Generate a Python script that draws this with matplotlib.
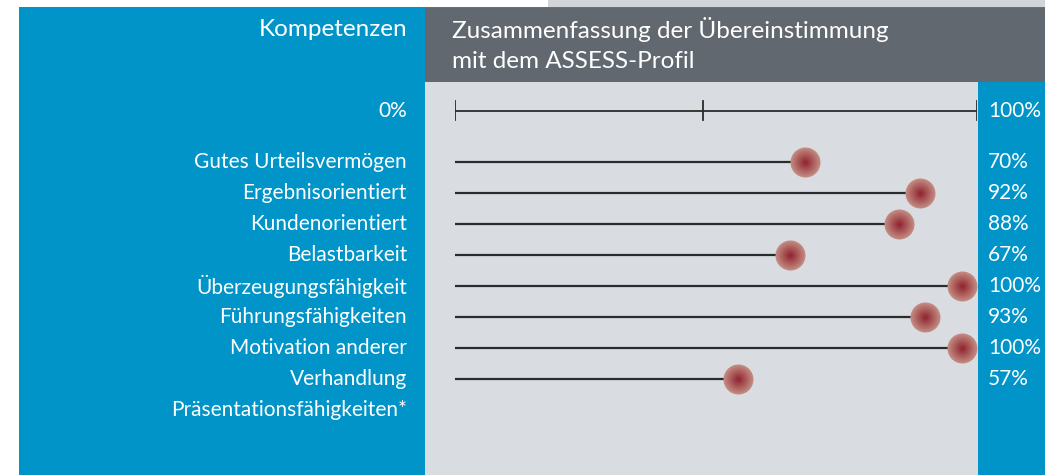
import numpy as np
import matplotlib
matplotlib.use("Agg")
import matplotlib.pyplot as plt
import matplotlib.transforms as mtransforms
from matplotlib.patches import Rectangle
from matplotlib.colors import to_rgb

plt.rcParams['font.family'] = ['Lato', 'DejaVu Sans']

# -----------------------------
# data
# -----------------------------
competences = ["Gutes Urteilsvermögen", "Ergebnisorientiert", "Kundenorientiert",
               "Belastbarkeit", "Überzeugungsfähigkeit", "Führungsfähigkeiten",
               "Motivation anderer", "Verhandlung", "Präsentationsfähigkeiten*"]
scores = [70, 92, 88, 67, 100, 93, 100, 57, None]
scale_ticks = [0, 47.5, 100]

header_left = "Kompetenzen"
header_right = ["Zusammenfassung der Übereinstimmung", "mit dem ASSESS-Profil"]

BLUE = "#0094c8"
DARK = "#616870"
LIGHT = "#d9dce0"
STRIP = "#d2d4d7"
W, H = 1045, 475

fig = plt.figure(figsize=(W / 100, H / 100), dpi=100)
fig.patch.set_facecolor("white")

# background panels in pixel coords
bg = fig.add_axes([0, 0, 1, 1])
bg.set_xlim(0, W)
bg.set_ylim(H, 0)
bg.axis("off")
bg.add_patch(Rectangle((548, 0), W - 548, 7, color=STRIP, lw=0))
bg.add_patch(Rectangle((19, 7), W - 19, H - 7, color=BLUE, lw=0))
bg.add_patch(Rectangle((425, 8), W - 425, 74, color=DARK, lw=0))
bg.add_patch(Rectangle((425, 82), 978 - 425, H - 82, color=LIGHT, lw=0))

# data axes: 0..100 spans the scale line, rows by index
ax = fig.add_axes([455 / W, 0, (977 - 455) / W, 1])
ax.set_xlim(0, 100)
row0, step = 162, 31.0
ax.set_ylim((H - row0) / step, -row0 / step)
ax.axis("off")
ax.patch.set_alpha(0)

scale_row = -(row0 - 110.6) / step
ax.plot([0, 100], [scale_row, scale_row], color="#2b2b2b", lw=1.3, solid_capstyle="butt")
for t in scale_ticks:
    ax.plot([t, t], [scale_row - 0.3, scale_row + 0.3], color="#2b2b2b", lw=1.3)

lab_x = (407 - 455) / (977 - 455)
pct_x = (988 - 455) / (977 - 455)
ytr = ax.get_yaxis_transform()
txt_kw = dict(color="white", fontsize=15, va="center")

ax.text(lab_x, scale_row, "0%", ha="right", transform=ytr, **txt_kw)
ax.text(pct_x, scale_row, "100%", ha="left", transform=ytr, **txt_kw)

# marker placed so its right edge sits on the value
radius_px = 15
shift = mtransforms.offset_copy(ax.transData, fig=fig, x=-radius_px, y=0, units="dots")
edge_c = np.array(to_rgb("#c38b82"))
core_c = np.array(to_rgb("#932a33"))
diam_pt = 2 * radius_px * 72 / 100

for i, (name, val) in enumerate(zip(competences, scores)):
    ax.text(lab_x, i, name, ha="right", transform=ytr, **txt_kw)
    if val is None:
        continue
    ax.plot([0, val], [i, i], color="#2b2b2b", lw=1.6, solid_capstyle="butt", zorder=2)
    n = 16
    for k in range(n):
        f = k / (n - 1)
        c = edge_c * (1 - f) + core_c * f
        d = diam_pt * (1 - 0.9 * f)
        ax.scatter([val], [i], s=d ** 2, color=c, lw=0, zorder=3 + k, transform=shift)
    ax.text(pct_x, i, f"{val}%", ha="left", transform=ytr, **txt_kw)

bg.text(407, 29, header_left, ha="right", va="center", color="white", fontsize=17.5)
for j, line in enumerate(header_right):
    bg.text(452, 30 + 31 * j, line, ha="left", va="center", color="white", fontsize=17.5)

fig.savefig("out.png", dpi=100)
